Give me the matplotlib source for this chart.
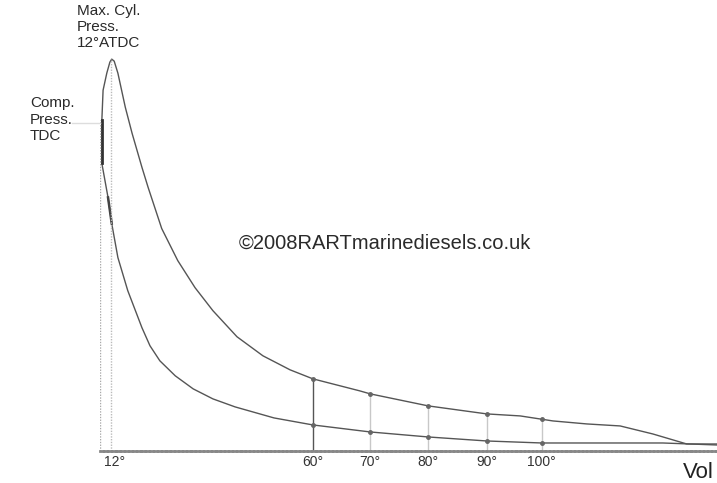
import numpy as np
import matplotlib
matplotlib.use("Agg")
import matplotlib.pyplot as plt

plt.rcParams['font.family'] = ['Liberation Sans', 'DejaVu Sans']

# -------------------- data (read off the indicator card) --------------------
# volume in % of swept volume, pressure in bar (approx.)
# combustion + expansion line: TDC -> max pressure -> down to exhaust
exp_vol = [0.3, 0.5, 1.1, 1.6, 1.9, 2.3, 2.9, 4.1, 5.2, 6.8, 7.8, 10.0, 12.6,
           15.4, 18.3, 22.2, 26.4, 30.8, 34.5, 42.1, 43.8, 53.2, 62.7, 68.1,
           73.4, 78.9, 84.3, 89.6, 95.1, 100.0]
exp_prs = [132, 144, 150.8, 155.2, 156.4, 155.6, 150.8, 137.2, 126.8, 113.2,
           105.2, 88.8, 76, 65.2, 56, 45.6, 38, 32.4, 28.8, 24, 22.8, 18, 14.8,
           14, 12, 10.8, 10, 6.8, 2.8, 2.8]

# compression line: TDC -> bottom dead centre
comp_vol = [0.3, 0.3, 0.8, 1.3, 1.9, 2.9, 4.5, 6.8, 8.1, 9.7, 12.2, 15.1,
            18.3, 21.9, 28.2, 34.5, 43.8, 53.2, 62.7, 71.6, 91.2, 100.0]
comp_prs = [132, 114.8, 108, 101.2, 90.8, 77.2, 64, 49.2, 42, 36, 30, 24.8,
            20.8, 17.6, 13.2, 10.4, 7.6, 5.6, 4, 3.2, 3.2, 2.4]

# crank angle marks
angle_labels = ['12°', '60°', '70°', '80°', '90°', '100°']
angle_vol = [1.8, 34.5, 43.8, 53.2, 62.7, 71.6]
angle_exp = [156.4, 28.8, 22.8, 18, 14.8, 12.8]
angle_comp = [0, 10.4, 7.6, 5.6, 4, 3.2]

tdc_pressure = 132

# -------------------- plot --------------------
fig = plt.figure(figsize=(7.17, 4.83), dpi=100)
ax = fig.add_axes([100 / 717, 32 / 483, 617 / 717, 451 / 483])
ax.set_xlim(0, 100)
ax.set_ylim(0, 180)

line_col = '#555555'
ax.plot(exp_vol, exp_prs, color=line_col, lw=1.0)
ax.plot(comp_vol, comp_prs, color=line_col, lw=1.0)
# darker bits near TDC on the scan
ax.plot(comp_vol[:2], comp_prs[:2], color='#333333', lw=2.0)
ax.plot(comp_vol[3:5], comp_prs[3:5], color='#444444', lw=1.8)

# y axis (dotted, up to TDC) and 12 deg line
ax.plot([0, 0], [0, tdc_pressure], color='#aaaaaa', lw=1.0, ls=(0, (1, 1)))
ax.plot([angle_vol[0]] * 2, [0, angle_exp[0]], color='#bbbbbb', lw=1.0, ls=(0, (1, 1)))

# angle ordinates
for i in range(1, len(angle_vol)):
    if i == 1:
        ax.plot([angle_vol[i]] * 2, [0, angle_exp[i]], color='#555555', lw=1.0)
    else:
        ax.plot([angle_vol[i]] * 2, [0, angle_exp[i]], color='#c8c8c8', lw=1.0)
    ax.plot(angle_vol[i], angle_exp[i], 'o', color='#666666', ms=2.5)
    ax.plot(angle_vol[i], angle_comp[i], 'o', color='#666666', ms=2.5)

for lab, v in zip(angle_labels, angle_vol):
    x = v + 0.6 if lab == '12°' else v
    ax.text(x, -4.4, lab, ha='center', va='center', fontsize=10, color='#333333')

# spines
for s in ['top', 'right', 'left']:
    ax.spines[s].set_visible(False)
ax.spines['bottom'].set_color('#888888')
ax.spines['bottom'].set_linewidth(2.0)
ax.spines['bottom'].set_linestyle((0, (1, 0.5)))
ax.set_xticks([])
ax.set_yticks([])

# annotations
ax.text(-3.7, 178.5, 'Max. Cyl.\nPress.\n12°ATDC', ha='left', va='top',
        fontsize=11, linespacing=1.2, color='#2a2a2a')
ax.text(-11.35, 141.5, 'Comp.\nPress.\nTDC', ha='left', va='top',
        fontsize=11, linespacing=1.2, color='#2a2a2a')
ax.plot([-4.5, 0], [130.8, 130.8], color='#dddddd', lw=1.0, clip_on=False)
ax.text(46.2, 82.8, '©2008RARTmarinediesels.co.uk', ha='center', va='center',
        fontsize=14.5, color='#2a2a2a')
ax.text(94.4, -8.4, 'Vol', ha='left', va='center', fontsize=16, color='#222222')

fig.savefig('out.png', dpi=100)
